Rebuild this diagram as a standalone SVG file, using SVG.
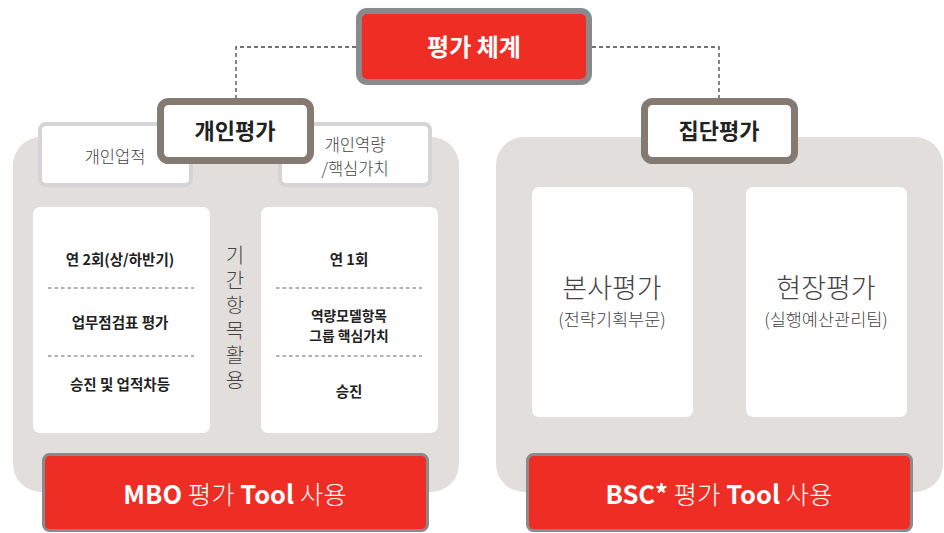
<svg xmlns="http://www.w3.org/2000/svg" width="944" height="533" viewBox="0 0 944 533">
<style>
text{font-family:"Noto Sans CJK KR","Noto Sans",sans-serif;text-anchor:middle}
.bg{fill:#e2dedb}
.card{fill:#ffffff}
.red{fill:#ee2e24;stroke:#8a8a8c}
.cat{fill:#ffffff;stroke:#857a72;stroke-width:7}
.sub{fill:#ffffff;stroke:#d4d4d6;stroke-width:4}
.dash{stroke:#444;stroke-width:1.3;stroke-dasharray:4 3;fill:none}
.sep{stroke:#666;stroke-width:1;stroke-dasharray:3.5 3;fill:none}
.b14{font-size:14.5px;font-weight:700;fill:#222}
.lt{fill:#444;font-weight:300}
.wt{fill:#fff}
</style>
<g id="connectors">
<path class="dash" d="M356 47 H236 V98"/>
<path class="dash" d="M592 47 H719 V98"/>
</g>
<g id="bg-individual"><rect class="bg" x="13" y="137" width="446" height="355" rx="28"/></g>
<g id="bg-group"><rect class="bg" x="496" y="137" width="447" height="355" rx="28"/></g>
<g id="top">
<rect class="red" x="359" y="11" width="230" height="71" rx="8" stroke-width="6"/>
<text x="474" y="56" class="wt" font-size="24" font-weight="700">평가 체계</text>
</g>
<g id="sub-performance">
<rect class="sub" x="40" y="124" width="151" height="61" rx="6"/>
<text x="115" y="163" class="lt" font-size="16.5">개인업적</text>
</g>
<g id="sub-competency">
<rect class="sub" x="280" y="124" width="150" height="61" rx="6"/>
<text class="lt" font-size="16.5"><tspan x="355" y="151">개인역량</tspan><tspan x="355" y="175">/핵심가치</tspan></text>
</g>
<g id="individual">
<rect class="cat" x="160.5" y="101.5" width="150" height="59" rx="8"/>
<text x="235" y="139" font-size="22" font-weight="700" fill="#222">개인평가</text>
</g>
<g id="group">
<rect class="cat" x="644.5" y="101.5" width="150" height="59" rx="8"/>
<text x="719" y="139" font-size="22" font-weight="700" fill="#222">집단평가</text>
</g>
<g id="card-performance">
<rect class="card" x="33" y="207" width="177" height="226" rx="7"/>
<text x="120" y="265" class="b14">연 2회(상/하반기)</text>
<line class="sep" x1="48" y1="288" x2="194" y2="288"/>
<text x="120" y="328" class="b14">업무점검표 평가</text>
<line class="sep" x1="48" y1="356" x2="194" y2="356"/>
<text x="120" y="390" class="b14">승진 및 업적차등</text>
</g>
<g id="card-competency">
<rect class="card" x="261" y="207" width="177" height="226" rx="7"/>
<text x="349" y="265" class="b14">연 1회</text>
<line class="sep" x1="276" y1="288" x2="422" y2="288"/>
<text class="b14" style="font-size:13.8px"><tspan x="349" y="321">역량모델항목</tspan><tspan x="349" y="340.5">그룹 핵심가치</tspan></text>
<line class="sep" x1="276" y1="356" x2="422" y2="356"/>
<text x="349" y="397" class="b14">승진</text>
</g>
<g id="vertical-label">
<text x="235" y="245" class="lt" font-size="20" writing-mode="vertical-rl" letter-spacing="5" style="text-anchor:start">기간항목활용</text>
</g>
<g id="card-hq">
<rect class="card" x="532" y="187" width="161" height="230" rx="7"/>
<text x="612" y="298" class="lt" font-size="27">본사평가</text>
<text x="612" y="326" class="lt" font-size="17.5">(전략기획부문)</text>
</g>
<g id="card-site">
<rect class="card" x="746" y="187" width="161" height="230" rx="7"/>
<text x="826" y="298" class="lt" font-size="27">현장평가</text>
<text x="826" y="326" class="lt" font-size="17.5">(실행예산관리팀)</text>
</g>
<g id="mbo">
<rect class="red" x="43.5" y="454.5" width="384" height="76" rx="6" stroke-width="3"/>
<text x="235" y="504" class="wt" font-size="25.5"><tspan font-weight="700">MBO</tspan><tspan font-weight="300"> 평가 </tspan><tspan font-weight="700">Tool</tspan><tspan font-weight="300"> 사용</tspan></text>
</g>
<g id="bsc">
<rect class="red" x="527.5" y="454.5" width="384" height="76" rx="6" stroke-width="3"/>
<text x="719" y="504" class="wt" font-size="25.5"><tspan font-weight="700">BSC*</tspan><tspan font-weight="300"> 평가 </tspan><tspan font-weight="700">Tool</tspan><tspan font-weight="300"> 사용</tspan></text>
</g>
</svg>
